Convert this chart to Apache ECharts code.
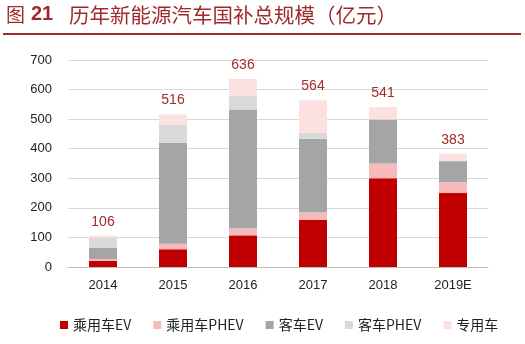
<!DOCTYPE html>
<html><head><meta charset="utf-8">
<script src="https://cdn.jsdelivr.net/npm/echarts@6/dist/echarts.min.js"></script>
<style>html,body{margin:0;padding:0;background:#fff}#c{width:525px;height:344px}</style>
</head><body><div id="c"></div>
<script>
const categories = ['2014','2015','2016','2017','2018','2019E'];
const carEV = [21, 60, 107, 160, 300, 250];
const carPHEV = [6, 19, 23, 24, 50, 37];
const busEV = [38, 341, 403, 250, 148, 71];
const busPHEV = [34, 62, 47, 20, 3, 0];
const special = [7, 34, 56, 110, 40, 25];
const totals = [106, 516, 636, 564, 541, 383];
const yTicks = [0, 100, 200, 300, 400, 500, 600, 700];

const chart = echarts.init(document.getElementById('c'));
const font = 'Arial, "Liberation Sans", "Noto Sans CJK SC", sans-serif';
function s(name, data, color, extra) {
  return Object.assign({name, type:'bar', stack:'t', data, barWidth:28,
    itemStyle:{color}, emphasis:{disabled:true}}, extra||{});
}
chart.setOption({
  animation:false,
  textStyle:{fontFamily:font},
  graphic:[
    {type:'text', left:6, top:5, style:{text:'图', fontSize:19, fill:'#9E2A2B', fontFamily:'"Noto Sans CJK SC"'}},
    {type:'text', left:31, top:4, style:{text:'21', fontSize:20, fontWeight:'bold', fill:'#9E2A2B', fontFamily:font}},
    {type:'text', left:69, top:5, style:{text:'历年新能源汽车国补总规模（亿元）', fontSize:20.5, fill:'#9E2A2B', fontFamily:'"Noto Sans CJK SC"'}},
    {type:'rect', shape:{x:3, y:33, width:518, height:2}, style:{fill:'#9E2A2B'}}
  ],
  legend:{top:313, left:55, itemWidth:8, itemHeight:8, itemGap:22,
    textStyle:{fontSize:14, color:'#222', fontFamily:'"Noto Sans CJK SC", Arial, sans-serif'},
    data:[
      {name:'乘用车EV', icon:'rect'},{name:'乘用车PHEV', icon:'rect'},
      {name:'客车EV', icon:'rect'},{name:'客车PHEV', icon:'rect'},{name:'专用车', icon:'rect'}]},
  grid:{left:68, right:37, top:60, bottom:77},
  xAxis:{type:'category', data:categories,
    axisLine:{lineStyle:{color:'#BFBFBF'}}, axisTick:{show:false},
    axisLabel:{color:'#222', fontSize:13, margin:12}},
  yAxis:{type:'value', min:0, max:700, interval:100,
    axisLabel:{color:'#222', fontSize:13, margin:16, formatter:v=>yTicks.includes(v)?String(v):''},
    splitLine:{lineStyle:{color:'#D9D9D9'}}, axisLine:{show:false}, axisTick:{show:false}},
  series:[
    s('乘用车EV', carEV, '#C00000'),
    s('乘用车PHEV', carPHEV, '#F7B9B9'),
    s('客车EV', busEV, '#A5A5A5'),
    s('客车PHEV', busPHEV, '#D9D9D9'),
    s('专用车', special, '#FCE1E1', {label:{show:true, position:'top', distance:7,
      color:'#A52A2A', fontSize:14, fontFamily:font,
      formatter:p=>String(totals[p.dataIndex])}})
  ]
});
</script></body></html>
